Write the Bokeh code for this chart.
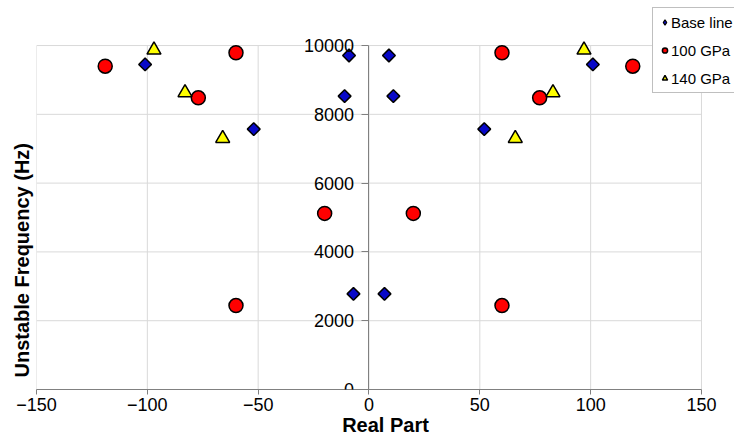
import numpy as np
from bokeh.plotting import figure
from bokeh.models import Range1d, FixedTicker, Legend, LegendItem, Title
from bokeh.embed import file_html
from bokeh.resources import INLINE

# ---- data ----
x_ticks = [-150, -100, -50, 0, 50, 100, 150]
y_ticks = [0, 2000, 4000, 6000, 8000, 10000]

base_x = [-101, -52, -9, -11, -7, 7, 9, 11, 52, 101]
base_y = [9450, 7570, 9710, 8530, 2780, 2780, 9710, 8530, 7570, 9450]

gpa100_x = [-119, -60, -77, -20, -60, 20, 60, 60, 77, 119]
gpa100_y = [9400, 9790, 8480, 5120, 2440, 5120, 2440, 9790, 8480, 9400]

gpa140_x = [-97, -83, -66, 66, 83, 97]
gpa140_y = [9870, 8630, 7300, 7300, 8630, 9870]

series_names = ["Base line", "100 GPa", "140 GPa"]

FONT = "Liberation Sans"
GRID = "#d9d9d9"
AXIS = "#808080"

x_min, x_max = x_ticks[0], x_ticks[-1]
y_min, y_max = y_ticks[0], y_ticks[-1]

# the frame is a little larger than the plotted area so the legend
# (which sits over the top-right corner) is not clipped
p = figure(width=734, height=439, output_backend="svg", toolbar_location=None,
           x_range=Range1d(x_min, 164.9), y_range=Range1d(y_min, 11164),
           min_border_left=36, min_border_right=0, min_border_top=5,
           min_border_bottom=50)
p.outline_line_color = None
p.background_fill_color = "white"
p.border_fill_color = "white"
p.xgrid.visible = False
p.ygrid.visible = False

# grid lines limited to the plotted area
p.segment(x0=x_ticks, y0=[y_min] * len(x_ticks), x1=x_ticks, y1=[y_max] * len(x_ticks),
          line_color=GRID, line_width=1)
p.segment(x0=[x_min] * len(y_ticks), y0=y_ticks, x1=[x_max] * len(y_ticks), y1=y_ticks,
          line_color=GRID, line_width=1)

# x axis
p.xaxis.bounds = (x_min, x_max)
p.xaxis.ticker = FixedTicker(ticks=x_ticks)
p.xaxis.axis_label = "Real Part"
p.xaxis.axis_label_text_font = FONT
p.xaxis.axis_label_text_font_size = "20px"
p.xaxis.axis_label_text_font_style = "bold"
p.xaxis.axis_label_text_color = "black"
p.xaxis.axis_label_standoff = 0
p.xaxis.major_label_text_font = FONT
p.xaxis.major_label_text_font_size = "18px"
p.xaxis.major_label_text_color = "black"
p.xaxis.major_label_standoff = 3
p.xaxis.major_tick_out = 5
p.xaxis.major_tick_in = 0
p.xaxis.minor_tick_line_color = None
p.xaxis.axis_line_color = AXIS
p.xaxis.major_tick_line_color = AXIS

# y axis at x = 0
p.yaxis.fixed_location = 0
p.yaxis.bounds = (y_min, y_max)
p.yaxis.ticker = FixedTicker(ticks=y_ticks)
p.yaxis.major_label_text_font = FONT
p.yaxis.major_label_text_font_size = "18px"
p.yaxis.major_label_text_color = "black"
p.yaxis.major_label_standoff = 8
p.yaxis.major_tick_out = 7
p.yaxis.major_tick_in = 0
p.yaxis.minor_tick_line_color = None
p.yaxis.axis_line_color = AXIS
p.yaxis.major_tick_line_color = AXIS

p.add_layout(Title(text="Unstable Frequency (Hz)", align="left", offset=12,
                   vertical_align="top", standoff=4,
                   text_font=FONT, text_font_size="20px", text_font_style="bold",
                   text_color="black"), "left")

r1 = p.scatter(base_x, base_y, marker="square", angle=np.pi / 4, size=9,
               fill_color="#0808c8", line_color="black", line_width=1.5)
# same series as a diamond of zero size: only used for the legend swatch
r1_leg = p.scatter(base_x, base_y, marker="diamond", size=0,
                   fill_color="#0808c8", line_color="black", line_width=1.2)
r2 = p.scatter(gpa100_x, gpa100_y, marker="circle", size=14,
               fill_color="#ff0000", line_color="black", line_width=1.5)
r3 = p.scatter(gpa140_x, gpa140_y, marker="triangle", size=14,
               fill_color="#ffff00", line_color="black", line_width=1.5)

legend = Legend(items=[LegendItem(label=series_names[0], renderers=[r1_leg]),
                       LegendItem(label=series_names[1], renderers=[r2]),
                       LegendItem(label=series_names[2], renderers=[r3])],
                location=(616, 296),
                label_text_font=FONT, label_text_font_size="15px",
                label_text_color="black",
                label_height=18, glyph_height=18, glyph_width=13,
                label_standoff=0, spacing=10, padding=5, margin=0,
                border_line_color=AXIS, border_line_width=1,
                background_fill_color="white", background_fill_alpha=1)
p.add_layout(legend)

open("out.html", "w").write(file_html(p, INLINE))
